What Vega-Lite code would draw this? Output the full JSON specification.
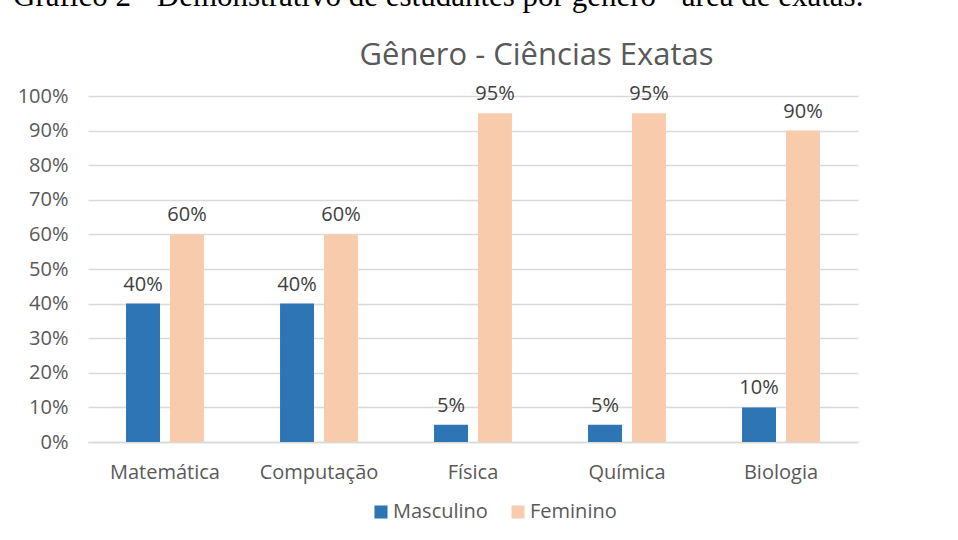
{
  "$schema": "https://vega.github.io/schema/vega-lite/v6.json",
  "width": 770,
  "height": 346,
  "autosize": {"type": "none"},
  "padding": {"left": 88, "top": 96, "right": 100, "bottom": 98},
  "background": "white",
  "title": {
    "text": "Gráfico 2 - Demonstrativo de estudantes por gênero - área de exatas.",
    "anchor": "start",
    "frame": "group",
    "dx": -75,
    "dy": 20,
    "baseline": "alphabetic",
    "offset": 22,
    "font": "Liberation Serif",
    "fontSize": 31,
    "fontWeight": "normal",
    "color": "black"
  },
  "config": {
    "view": {"stroke": null},
    "font": "Open Sans",
    "axis": {"labelColor": "#595959", "labelFontSize": 20, "labelFont": "Open Sans"}
  },
  "data": {
    "values": [
      {"area": "Matemática", "genero": "Masculino", "valor": 0.40},
      {"area": "Matemática", "genero": "Feminino", "valor": 0.60},
      {"area": "Computação", "genero": "Masculino", "valor": 0.40},
      {"area": "Computação", "genero": "Feminino", "valor": 0.60},
      {"area": "Física", "genero": "Masculino", "valor": 0.05},
      {"area": "Física", "genero": "Feminino", "valor": 0.95},
      {"area": "Química", "genero": "Masculino", "valor": 0.05},
      {"area": "Química", "genero": "Feminino", "valor": 0.95},
      {"area": "Biologia", "genero": "Masculino", "valor": 0.10},
      {"area": "Biologia", "genero": "Feminino", "valor": 0.90}
    ]
  },
  "encoding": {
    "x": {
      "field": "area", "type": "nominal", "sort": null,
      "scale": {"paddingInner": 0.494, "paddingOuter": 0.247}
    },
    "xOffset": {
      "field": "genero", "type": "nominal", "sort": ["Masculino", "Feminino"],
      "scale": {"paddingInner": 0.227, "paddingOuter": 0}
    },
    "y": {
      "field": "valor", "type": "quantitative",
      "scale": {"domain": [0, 1], "nice": false},
      "axis": {
        "title": null, "format": ".0%", "values": [0, 0.1, 0.2, 0.3, 0.4, 0.5, 0.6, 0.7, 0.8, 0.9, 1],
        "domain": false, "ticks": false, "gridColor": "#d9d9d9", "gridWidth": 1.3, "labelPadding": 20
      }
    }
  },
  "resolve": {"axis": {"x": "independent"}},
  "layer": [
    {
      "mark": {"type": "bar"},
      "encoding": {
        "x": {
          "field": "area", "type": "nominal", "sort": null,
          "axis": {
            "title": null, "labelAngle": 0, "ticks": false, "domainColor": "#d9d9d9", "domainWidth": 1.3,
            "labelPadding": 20, "grid": false
          }
        },
        "color": {
          "field": "genero", "type": "nominal",
          "scale": {"domain": ["Masculino", "Feminino"], "range": ["#2E75B6", "#F8CBAD"]},
          "legend": {
            "title": null, "orient": "none", "legendX": 283, "legendY": 406, "direction": "horizontal",
            "symbolType": "square", "symbolSize": 170, "symbolStrokeWidth": 0,
            "labelFontSize": 20, "labelColor": "#595959", "labelFont": "Open Sans",
            "columnPadding": 20, "labelOffset": 2
          }
        }
      }
    },
    {
      "mark": {"type": "text", "baseline": "alphabetic", "dy": -13, "fontSize": 20, "color": "#404040", "font": "Open Sans"},
      "encoding": {
        "x": {
          "field": "area", "type": "nominal", "sort": null,
          "axis": {
            "orient": "top", "labels": false, "ticks": false, "domain": false, "grid": false,
            "title": "Gênero - Ciências Exatas", "titleFontSize": 31, "titleFontWeight": "normal",
            "titleColor": "#595959", "titleFont": "Open Sans", "titleX": 448, "titleY": -32,
            "titleBaseline": "alphabetic", "titleAnchor": null
          }
        },
        "text": {"field": "valor", "type": "quantitative", "format": ".0%"}
      }
    }
  ]
}
